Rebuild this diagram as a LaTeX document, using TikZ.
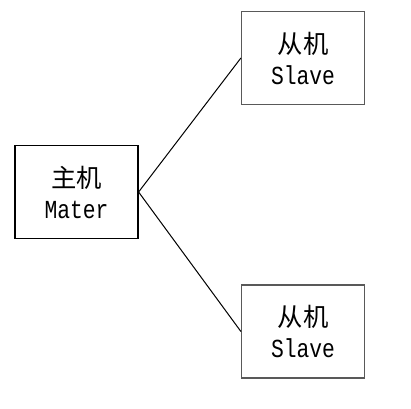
\documentclass[tikz,border=0pt]{standalone}
\usepackage{fontspec}
\newfontfamily\cjk{Noto Sans CJK SC}
\newfontfamily\mono{Liberation Mono}
\usetikzlibrary{positioning}

\tikzset{
  hostbox/.style={draw=#1, line width=0.9pt, minimum width=92.25pt, minimum height=69.75pt,
    inner sep=0pt, align=center, font=\fontsize{16}{23.25}\selectfont},
  link/.style={draw=black, line width=0.75pt}
}
\newcommand{\boxtext}[2]{{\cjk\fontsize{19}{23.25}\selectfont #1}\\\scalebox{0.82}[1]{\mono\fontsize{19.5}{23.25}\selectfont #2}}

\begin{document}
\begin{tikzpicture}[x=0.75pt, y=-0.75pt]
\useasboundingbox (0,0) rectangle (411,408);

% master on the left
\node [hostbox=black] (master) at (76.5,192) {\boxtext{主机}{Mater}};

% two slaves on the right
\node [hostbox=black!65] (slaveA) at (303,58)    {\boxtext{从机}{Slave}};
\node [hostbox=black!65] (slaveB) at (303,331.5) {\boxtext{从机}{Slave}};

\draw [link] (master.east) -- (slaveA.west);
\draw [link] (master.east) -- (slaveB.west);
\end{tikzpicture}
\end{document}
